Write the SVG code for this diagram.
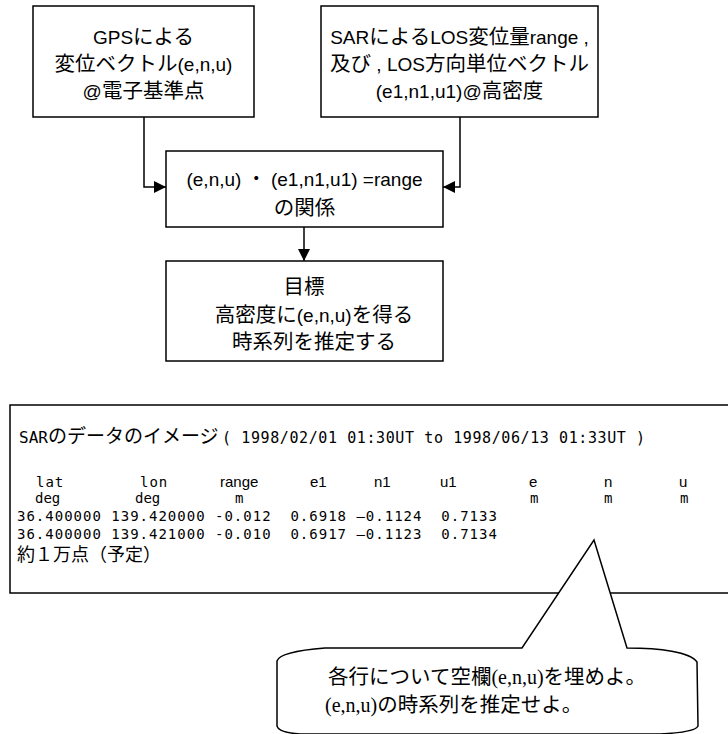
<svg xmlns="http://www.w3.org/2000/svg" width="728" height="734" viewBox="0 0 728 734">
<defs>
<marker id="ah" markerWidth="12" markerHeight="12" refX="12" refY="6" orient="auto" markerUnits="userSpaceOnUse">
<path d="M0,0 L12,6 L0,12 Z" fill="#000"/>
</marker>
<style>
.box{fill:#fff;stroke:#000;stroke-width:1.5}
.t{font-family:"Liberation Sans","Noto Sans CJK JP",sans-serif;font-size:19px;fill:#000;text-anchor:middle}
.k{font-family:"Noto Sans CJK JP",sans-serif;font-size:20.5px}
.m{font-family:"DejaVu Sans Mono","Noto Sans CJK JP",monospace;font-size:14px;fill:#000}
.r{letter-spacing:1px}
.h{font-family:"Liberation Sans","Noto Sans CJK JP",sans-serif;font-size:15px;fill:#000}
.j{font-family:"Noto Sans CJK JP",sans-serif;font-size:19px;fill:#000}
.b{font-family:"Noto Sans CJK JP",sans-serif;font-size:20.5px;fill:#000}
.s{font-family:"Liberation Serif",serif;font-size:20px}
.c{fill:none;stroke:#000;stroke-width:1.5}
</style>
</defs>
<rect width="728" height="734" fill="#fff"/>
<g id="connectors">
<polyline class="c" points="144,117 144,187 166,187" marker-end="url(#ah)"/>
<polyline class="c" points="460,117 460,187 443,187" marker-end="url(#ah)"/>
<line class="c" x1="304" y1="227" x2="304" y2="261" marker-end="url(#ah)"/>
</g>
<g id="gps">
<rect class="box" x="33" y="6" width="221" height="111"/>
<text class="t" x="143.5" y="44">GPS<tspan class="k">による</tspan></text>
<text class="t" x="143.5" y="71"><tspan class="k">変位ベクトル</tspan>(e,n,u)</text>
<text class="t" x="143.5" y="98">@<tspan class="k">電子基準点</tspan></text>
</g>
<g id="sar">
<rect class="box" x="321" y="6" width="277" height="111"/>
<text class="t" x="459.5" y="44">SAR<tspan class="k">による</tspan>LOS<tspan class="k">変位量</tspan>range ,</text>
<text class="t" x="459.5" y="71"><tspan class="k">及び</tspan> , LOS<tspan class="k">方向単位ベクトル</tspan></text>
<text class="t" x="459.5" y="98">(e1,n1,u1)@<tspan class="k">高密度</tspan></text>
</g>
<g id="relation">
<rect class="box" x="166" y="151" width="277" height="76"/>
<text class="t" x="304.5" y="186">(e,n,u) ・ (e1,n1,u1) =range</text>
<text class="t" x="304.5" y="215"><tspan class="k">の関係</tspan></text>
</g>
<g id="goal">
<rect class="box" x="166" y="261" width="277" height="100"/>
<text class="t" x="304" y="294"><tspan class="k">目標</tspan></text>
<text class="t" x="314" y="322"><tspan class="k">高密度に</tspan>(e,n,u)<tspan class="k">を得る</tspan></text>
<text class="t" x="314" y="349"><tspan class="k">時系列を推定する</tspan></text>
</g>
<g id="data">
<rect class="box" x="10" y="405" width="740" height="188"/>
<text x="19" y="443"><tspan class="m" style="font-size:16px">SAR</tspan><tspan class="j">のデータのイメージ</tspan></text>
<text class="m" x="222" y="443" style="font-size:15px;letter-spacing:0.6px">( 1998/02/01 01:30UT to 1998/06/13 01:33UT )</text>
<text class="m r" x="36" y="487">lat</text>
<text class="m r" x="140" y="487">lon</text>
<text class="h" x="220" y="487">range</text>
<text class="h" x="310" y="487">e1</text>
<text class="h" x="374" y="487">n1</text>
<text class="h" x="440" y="487">u1</text>
<text class="h" x="529" y="487">e</text>
<text class="h" x="604" y="487">n</text>
<text class="h" x="679" y="487">u</text>
<text class="m" x="35" y="503">deg</text>
<text class="m" x="135" y="503">deg</text>
<text class="m" x="235" y="503">m</text>
<text class="m" x="530" y="503">m</text>
<text class="m" x="604" y="503">m</text>
<text class="m" x="680" y="503">m</text>
<text class="m r" x="17" y="521" xml:space="preserve">36.400000 139.420000 -0.012  0.6918 –0.1124  0.7133</text>
<text class="m r" x="17" y="539" xml:space="preserve">36.400000 139.421000 -0.010  0.6917 –0.1123  0.7134</text>
<text class="j" x="17" y="561" style="font-size:18px">約１万点（予定）</text>
</g>
<g id="callout">
<path class="c" style="fill:#fff" d="M277,661 C279,654 300,650 325,648 L522,648 L594,540 L627,648 C660,648 690,652 697,662 L698,726 C696,731 680,733 660,734 L300,734 C285,733 278,730 277,726 Z"/>
<text class="b" x="328" y="684">各行について空欄<tspan class="s">(e,n,u)</tspan>を埋めよ。</text>
<text class="b" x="325" y="712"><tspan class="s">(e,n,u)</tspan>の時系列を推定せよ。</text>
</g>
</svg>
